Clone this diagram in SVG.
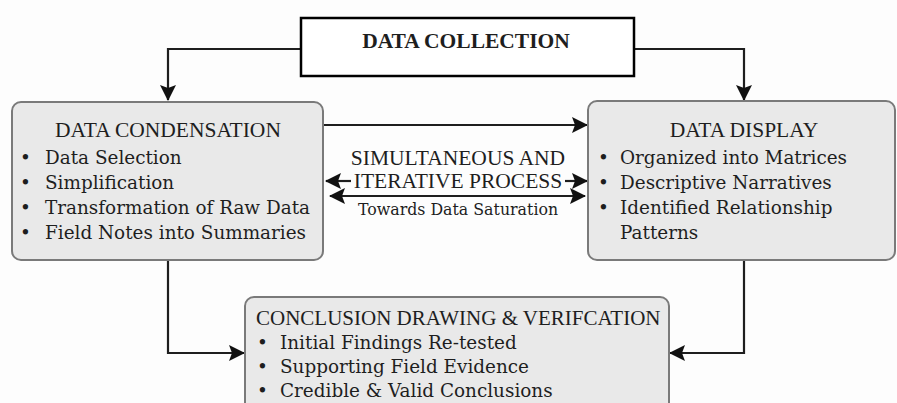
<svg xmlns="http://www.w3.org/2000/svg" width="897" height="403" viewBox="0 0 897 403">
<style>
.box{fill:#e9e9e9;stroke:#7a7a7a;stroke-width:2}
.t{font-family:"Liberation Serif","Times New Roman",serif;fill:#1e1e1e;font-size:21.5px}
.b{font-family:"DejaVu Serif",Georgia,serif;fill:#1e1e1e;font-size:18.4px}
.h{text-anchor:middle}
.s{font-family:"DejaVu Serif",Georgia,serif;font-size:15.8px}
.c{fill:none;stroke:#1e1e1e;stroke-width:2.2}
</style>
<defs>
<marker id="ah" markerUnits="userSpaceOnUse" markerWidth="18" markerHeight="18" refX="15" refY="8" orient="auto-start-reverse" viewBox="0 0 18 16">
<path d="M0,0 L16,8 L0,16 L3,8 z" fill="#111"/>
</marker>
</defs>
<rect width="897" height="403" fill="#fdfdfd"/>
<g id="connectors">
<polyline class="c" points="300,49 168,49 168,100" marker-end="url(#ah)"/>
<polyline class="c" points="634,49 744,49 744,100" marker-end="url(#ah)"/>
<line class="c" x1="324" y1="125" x2="587" y2="125" marker-end="url(#ah)"/>
<line class="c" x1="351" y1="181" x2="326" y2="181" marker-end="url(#ah)"/>
<line class="c" x1="565" y1="181" x2="587" y2="181" marker-end="url(#ah)"/>
<line class="c" x1="330" y1="196" x2="585" y2="196" marker-start="url(#ah)" marker-end="url(#ah)"/>
<polyline class="c" points="168,261 168,353 244,353" marker-end="url(#ah)"/>
<polyline class="c" points="744,261 744,353 670,353" marker-end="url(#ah)"/>
</g>
<g id="data-collection">
<rect x="301" y="18" width="333" height="58" fill="#fff" stroke="#000" stroke-width="2.5"/>
<text class="t h" x="466" y="48" style="font-weight:bold;font-size:21.5px">DATA COLLECTION</text>
</g>
<g id="data-condensation">
<rect class="box" x="12" y="102" width="311" height="158" rx="9"/>
<text class="t h" x="168" y="137">DATA CONDENSATION</text>
<text class="b" x="20" y="164">•</text><text class="b" x="45" y="164">Data Selection</text>
<text class="b" x="20" y="189">•</text><text class="b" x="45" y="189">Simplification</text>
<text class="b" x="20" y="214">•</text><text class="b" x="45" y="214">Transformation of Raw Data</text>
<text class="b" x="20" y="239">•</text><text class="b" x="45" y="239">Field Notes into Summaries</text>
</g>
<g id="process-label">
<text class="t h" x="458" y="165">SIMULTANEOUS AND</text>
<text class="t h" x="458" y="188">ITERATIVE PROCESS</text>
<text class="t h s" x="458" y="215">Towards Data Saturation</text>
</g>
<g id="data-display">
<rect class="box" x="588" y="101" width="307" height="159" rx="9"/>
<text class="t h" x="744" y="137">DATA DISPLAY</text>
<text class="b" x="598" y="164">•</text><text class="b" x="620" y="164">Organized into Matrices</text>
<text class="b" x="598" y="189">•</text><text class="b" x="620" y="189">Descriptive Narratives</text>
<text class="b" x="598" y="214">•</text><text class="b" x="620" y="214">Identified Relationship</text>
<text class="b" x="620" y="239">Patterns</text>
</g>
<g id="conclusion">
<rect class="box" x="245" y="297" width="424" height="120" rx="9"/>
<text class="t" x="256" y="325" style="font-size:21px">CONCLUSION DRAWING &amp; VERIFCATION</text>
<text class="b" x="257" y="349">•</text><text class="b" x="280" y="349">Initial Findings Re-tested</text>
<text class="b" x="257" y="373">•</text><text class="b" x="280" y="373">Supporting Field Evidence</text>
<text class="b" x="257" y="397">•</text><text class="b" x="280" y="397">Credible &amp; Valid Conclusions</text>
</g>
</svg>
